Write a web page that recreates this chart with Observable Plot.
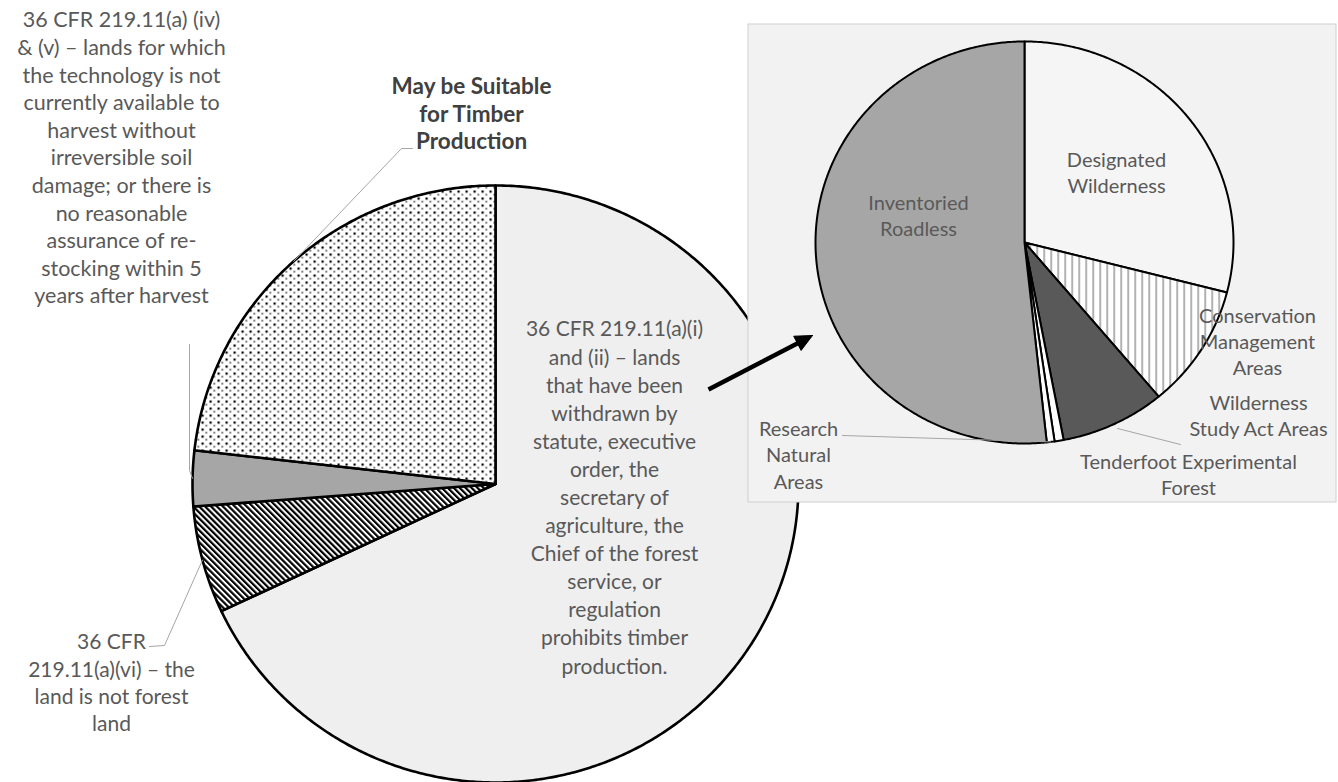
<!DOCTYPE html>
<html><head><meta charset="utf-8">
<script src="https://cdn.jsdelivr.net/npm/d3@7"></script>
<script src="https://cdn.jsdelivr.net/npm/@observablehq/plot@0.6"></script>
<style>
html,body{margin:0;padding:0;background:#fff;overflow:hidden;}
#chart{width:1338px;height:782px;}
</style></head><body><div id="chart"></div>
<script>
// ---------------- DATA ----------------
// Main pie, clockwise from 12 o'clock (percent of lands)
const mainCategories = ["Withdrawn (i)(ii)", "Not forest land (vi)", "Technology / restocking (iv)(v)", "May be suitable"];
const mainValues = [68.0, 5.8, 3.0, 23.2];
const mainLabelTexts = [
  "36 CFR 219.11(a)(i)\nand (ii) – lands\nthat have been\nwithdrawn by\nstatute, executive\norder, the\nsecretary of\nagriculture, the\nChief of the forest\nservice, or\nregulation\nprohibits timber\nproduction.",
  "36 CFR\n219.11(a)(vi) – the\nland is not forest\nland",
  "36 CFR 219.11(a) (iv)\n& (v) – lands for which\nthe technology is not\ncurrently available to\nharvest without\nirreversible soil\ndamage; or there is\nno reasonable\nassurance of re-\nstocking within 5\nyears after harvest",
  "May be Suitable\nfor Timber\nProduction"
];

// Inset pie (breakdown of withdrawn lands), clockwise from 12 o'clock
const insetCategories = ["Designated Wilderness", "Conservation Management Areas", "Wilderness Study Act Areas", "Tenderfoot Experimental Forest", "Research Natural Areas", "Inventoried Roadless"];
const insetValues = [29.0, 9.9, 8.1, 0.7, 0.6, 51.7];
const insetLabelTexts = [
  "Designated\nWilderness",
  "Conservation\nManagement\nAreas",
  "Wilderness\nStudy Act Areas",
  "Tenderfoot Experimental\nForest",
  "Research\nNatural\nAreas",
  "Inventoried\nRoadless"
];

// ---------------- STYLE / LAYOUT ----------------
const mainFills = ["#efefef", "url(#hatch)", "#a6a6a6", "url(#dots)"];
const insetFills = ["#f5f5f5", "url(#vstripes)", "#595959", "#ffffff", "#ffffff", "#a6a6a6"];

const L = {
  main: {cx: 495, cy: 483.5, rx: 303, ry: 298.5},
  inset: {cx: 1024, cy: 242, rx: 209, ry: 201},
  panel: {x1: 748, x2: 1336, y1: 24, y2: 502},
  arrow: {x1: 708, y1: 389, x2: 812, y2: 335},
  mainLabelPos: [
    {x: 614, y: 495.5, lh: 28.1, bold: false, size: 21},
    {x: 111, y: 681, lh: 27.3, bold: false, size: 21},
    {x: 121, y: 156, lh: 27.6, bold: false, size: 21.5},
    {x: 471, y: 112.5, lh: 27.5, bold: true, size: 22.5}
  ],
  insetLabelPos: [
    {x: 1116, y: 171.5}, {x: 1257, y: 340}, {x: 1258, y: 414},
    {x: 1188, y: 473}, {x: 798, y: 453.5}, {x: 918, y: 214.5}
  ]
};

const font = "Lato, 'Open Sans', sans-serif";

// ---------------- GEOMETRY FROM DATA ----------------
function arcsOf(values) { return d3.pie().sort(null).value(d => d)(values); }
function edgePoint(p, a, k = 1) { return {x: p.cx + k * p.rx * Math.sin(a), y: p.cy - k * p.ry * Math.cos(a)}; }
function slicesRows(cats, vals, p, tag) {
  const rows = [];
  arcsOf(vals).forEach((a, i) => {
    const id = tag + i, cat = cats[i];
    rows.push({id, cat, x: p.cx, y: p.cy});
    const n = Math.max(2, Math.ceil((a.endAngle - a.startAngle) / (Math.PI / 360)));
    for (let k = 0; k <= n; k++) {
      const t = a.startAngle + (a.endAngle - a.startAngle) * k / n;
      const e = edgePoint(p, t);
      rows.push({id, cat, x: e.x, y: e.y});
    }
    rows.push({id, cat, x: p.cx, y: p.cy});
  });
  return rows;
}
const mainArcs = arcsOf(mainValues);
const insetArcs = arcsOf(insetValues);
const mid = a => (a.startAngle + a.endAngle) / 2;

const mainRows = slicesRows(mainCategories, mainValues, L.main, "m");
const insetRows = slicesRows(insetCategories, insetValues, L.inset, "i");

// leader lines: label anchor(s) -> slice edge at mid angle
const leaders = [];
function addLeader(id, pts) { pts.forEach(p => leaders.push({id, x: p.x, y: p.y})); }
addLeader("l3", [{x: 412, y: 148}, {x: 401, y: 148}, edgePoint(L.main, mid(mainArcs[3]))]);
addLeader("l2", [{x: 189, y: 344}, {x: 189, y: 470}, edgePoint(L.main, mid(mainArcs[2]))]);
addLeader("l1", [{x: 149, y: 646}, {x: 164, y: 645}, edgePoint(L.main, mid(mainArcs[1]))]);
addLeader("l4", [{x: 842, y: 435}, edgePoint(L.inset, mid(insetArcs[4]))]);
addLeader("l5", [{x: 1180, y: 444}, {x: 1117, y: 428}]);

const mainLabels = mainLabelTexts.map((t, i) => ({text: t, ...L.mainLabelPos[i]}));
const insetLabels = insetLabelTexts.map((t, i) => ({text: t, ...L.insetLabelPos[i]}));

// arrow
const A = L.arrow;
const dx = A.x2 - A.x1, dy = A.y2 - A.y1, len = Math.hypot(dx, dy);
const ux = dx / len, uy = dy / len, px = -uy, py = ux;
const headL = 17, headW = 8;
const bx = A.x2 - headL * ux, by = A.y2 - headL * uy;
const shaft = [{x: A.x1, y: A.y1}, {x: bx + 2 * ux, y: by + 2 * uy}];
const head = [{x: A.x2, y: A.y2}, {x: bx + headW * px, y: by + headW * py}, {x: bx - headW * px, y: by - headW * py}, {x: A.x2, y: A.y2}];

const textMark = (data, opts) => Plot.text(data, {
  x: "x", y: "y", text: "text", textAnchor: "middle", lineAnchor: "middle",
  fontFamily: font, ...opts
});

const chart = Plot.plot({
  width: 1338, height: 782,
  marginTop: 0, marginRight: 0, marginBottom: 0, marginLeft: 0,
  x: {domain: [0, 1338], range: [0, 1338], axis: null},
  y: {domain: [0, 782], range: [0, 782], axis: null},
  color: {type: "ordinal", domain: [...mainCategories, ...insetCategories], range: [...mainFills, ...insetFills]},
  style: {background: "transparent", overflow: "visible"},
  marks: [
    Plot.line(mainRows, {x: "x", y: "y", z: "id", fill: "cat", stroke: "#000", strokeWidth: 2.6, curve: "linear"}),
    Plot.line(leaders.filter(d => d.id < "l4"), {x: "x", y: "y", z: "id", stroke: "#a6a6a6", strokeWidth: 1, curve: "linear"}),
    ...L.mainLabelPos.map((p, i) => textMark([mainLabels[i]], {
      fontSize: p.size, lineHeight: p.lh / p.size, fill: p.bold ? "#404040" : "#595959", fontWeight: p.bold ? "bold" : "normal"
    })),
    Plot.rect([L.panel], {x1: "x1", x2: "x2", y1: "y1", y2: "y2", fill: "#f2f2f2", stroke: "#d0d0d0", strokeWidth: 1}),
    Plot.line(insetRows, {x: "x", y: "y", z: "id", fill: "cat", stroke: "#000", strokeWidth: 2, curve: "linear"}),
    Plot.line(leaders.filter(d => d.id >= "l4"), {x: "x", y: "y", z: "id", stroke: "#a6a6a6", strokeWidth: 1, curve: "linear"}),
    textMark(insetLabels, {fontSize: 20, lineHeight: 1.31, fill: "#595959"}),
    Plot.line(shaft, {x: "x", y: "y", stroke: "#000", strokeWidth: 4.5, strokeLinecap: "butt"}),
    Plot.line(head, {x: "x", y: "y", fill: "#000", stroke: "#000", strokeWidth: 1})
  ]
});

// pattern definitions (Excel-like fills)
const svg = d3.select(chart);
const defs = svg.insert("defs", ":first-child");
const dots = defs.append("pattern").attr("id", "dots").attr("patternUnits", "userSpaceOnUse").attr("width", 8).attr("height", 7);
dots.append("rect").attr("width", 8).attr("height", 7).attr("fill", "#fff");
dots.append("rect").attr("x", 1).attr("y", 1).attr("width", 2.2).attr("height", 2.2).attr("fill", "#000");
dots.append("rect").attr("x", 5).attr("y", 4.5).attr("width", 1.5).attr("height", 1.5).attr("fill", "#222");
const hatch = defs.append("pattern").attr("id", "hatch").attr("patternUnits", "userSpaceOnUse").attr("width", 4.2).attr("height", 4.2).attr("patternTransform", "rotate(-45)");
hatch.append("rect").attr("width", 4.2).attr("height", 4.2).attr("fill", "#fff");
hatch.append("rect").attr("width", 2.2).attr("height", 4.2).attr("fill", "#000");
const vs = defs.append("pattern").attr("id", "vstripes").attr("patternUnits", "userSpaceOnUse").attr("width", 7).attr("height", 7);
vs.append("rect").attr("width", 7).attr("height", 7).attr("fill", "#fff");
vs.append("rect").attr("x", 0).attr("width", 1.3).attr("height", 7).attr("fill", "#888");

document.getElementById("chart").appendChild(chart);
</script>
</body></html>
